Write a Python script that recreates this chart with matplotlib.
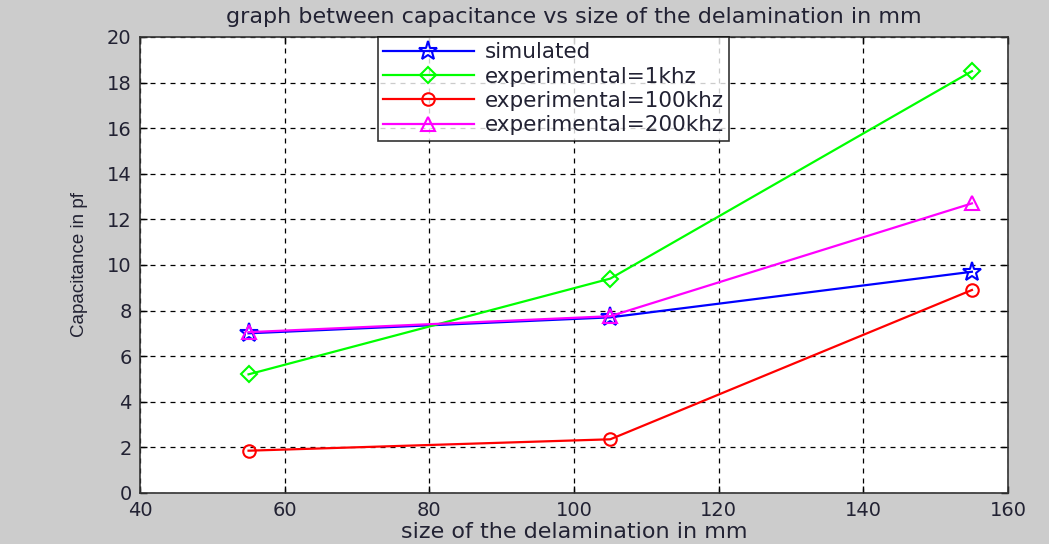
import matplotlib
matplotlib.use('Agg')
import matplotlib.pyplot as plt

# data
size_mm = [55, 105, 155]
simulated = [7.0, 7.7, 9.7]
exp_1khz = [5.2, 9.4, 18.5]
exp_100khz = [1.85, 2.35, 8.9]
exp_200khz = [7.05, 7.75, 12.7]

plt.rcParams['font.family'] = ['DejaVu Sans']

fig = plt.figure(figsize=(10.49, 5.44), dpi=100, facecolor='#cccccc')
ax = fig.add_axes([0.1335, 0.094, 0.8275, 0.838])
ax.set_facecolor('white')

ax.plot(size_mm, simulated, color='#0000ff', marker='*', markersize=14,
        markerfacecolor='none', markeredgecolor='#0000ff', markeredgewidth=1.5,
        linewidth=1.6, label='simulated')
ax.plot(size_mm, exp_1khz, color='#00ff00', marker='D', markersize=8,
        markerfacecolor='none', markeredgewidth=1.5, linewidth=1.6,
        label='experimental=1khz')
ax.plot(size_mm, exp_100khz, color='#ff0000', marker='o', markersize=9,
        markerfacecolor='none', markeredgewidth=1.5, linewidth=1.6,
        label='experimental=100khz')
ax.plot(size_mm, exp_200khz, color='#ff00ff', marker='^', markersize=10,
        markerfacecolor='none', markeredgewidth=1.5, linewidth=1.6,
        label='experimental=200khz')

ax.set_xlim(40, 160)
ax.set_ylim(0, 20)
ax.set_xticks(range(40, 161, 20))
ax.set_yticks(range(0, 21, 2))
ax.tick_params(direction='in', top=True, right=True, length=5,
               labelsize=14, colors='black', width=1, pad=6)
for lbl in ax.get_xticklabels() + ax.get_yticklabels():
    lbl.set_color('#222233')
ax.grid(True, color='black', linestyle=(0, (4, 4)), linewidth=0.9)
for sp in ax.spines.values():
    sp.set_linewidth(1.2)
    sp.set_color('#333333')

ax.set_title('graph between capacitance vs size of the delamination in mm',
             fontsize=16, pad=10, color='#222233')
ax.set_xlabel('size of the delamination in mm', fontsize=16, labelpad=1,
              color='#222233')
ax.set_ylabel('Capacitance in pf', fontsize=13.5, labelpad=14,
              family=['Liberation Sans'], color='#222233')

leg = ax.legend(loc='upper left', bbox_to_anchor=(0.274, 1.0), fontsize=15.5,
                frameon=True, fancybox=False, edgecolor='black',
                handlelength=4.2, borderpad=0.25, labelspacing=0.2,
                handletextpad=0.5, borderaxespad=0)
leg.get_frame().set_linewidth(1.2)
for t in leg.get_texts():
    t.set_color('#222233')

fig.savefig('out.png', dpi=100, facecolor=fig.get_facecolor())
